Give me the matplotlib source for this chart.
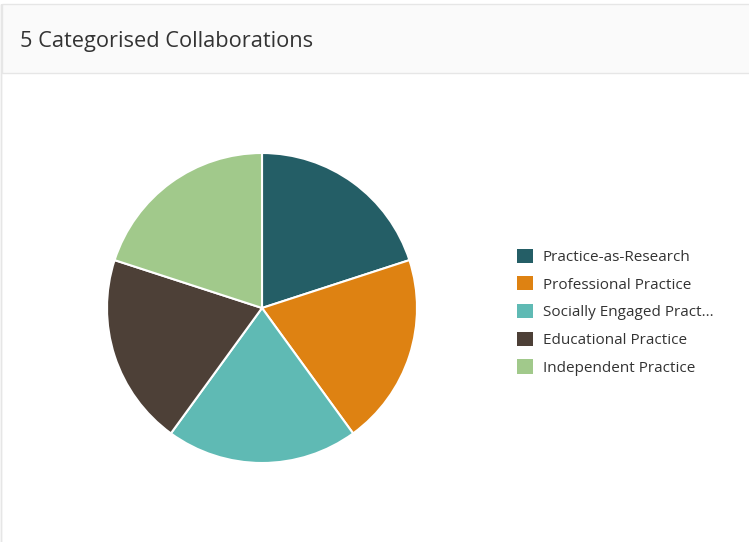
import matplotlib.pyplot as plt
from matplotlib.patches import Rectangle, Patch

categories = ["Practice-as-Research", "Professional Practice", "Socially Engaged Pract...",
              "Educational Practice", "Independent Practice"]
values = [1, 1, 1, 1, 1]
colors = ["#245e66", "#de8212", "#5fbab4", "#4d4037", "#a1c98b"]

plt.rcParams['font.family'] = ['Open Sans', 'DejaVu Sans']

W, H = 749, 542
fig = plt.figure(figsize=(W / 100, H / 100), dpi=100)
fig.patch.set_facecolor("white")

# card header
fig.patches.append(Rectangle((2 / W, 1 - 73 / H), 1, 69 / H, transform=fig.transFigure,
                             facecolor="#fafafa", edgecolor="#e6e6e6", linewidth=1))
fig.patches.append(Rectangle((1 / W, -0.01), 0, 1 - 4 / H + 0.01, transform=fig.transFigure,
                             facecolor="none", edgecolor="#e6e6e6", linewidth=1))
fig.text(20 / W, 1 - 41 / H, "5 Categorised Collaborations", fontsize=15.7, color="#333333",
         va="center", ha="left")

cx, cy, r = 262, 308, 155
ax = fig.add_axes([(cx - r) / W, (H - cy - r) / H, 2 * r / W, 2 * r / H])
wedges, _ = ax.pie(values, colors=colors, startangle=90, counterclock=False, radius=1,
                   wedgeprops=dict(edgecolor="white", linewidth=1.5))
ax.set_xlim(-1.0, 1.0)
ax.set_ylim(-1.0, 1.0)
ax.set_aspect("equal")
ax.axis("off")

handles = [Patch(facecolor=c, edgecolor="none") for c in colors]
fig.legend(handles, categories, loc="upper left", bbox_to_anchor=(509 / W, 1 - 241 / H),
           frameon=False, fontsize=11, handlelength=1.05, handleheight=1.05,
           handletextpad=0.65, labelspacing=0.745, labelcolor="#333333", borderpad=0)

fig.savefig("out.png", dpi=100)
